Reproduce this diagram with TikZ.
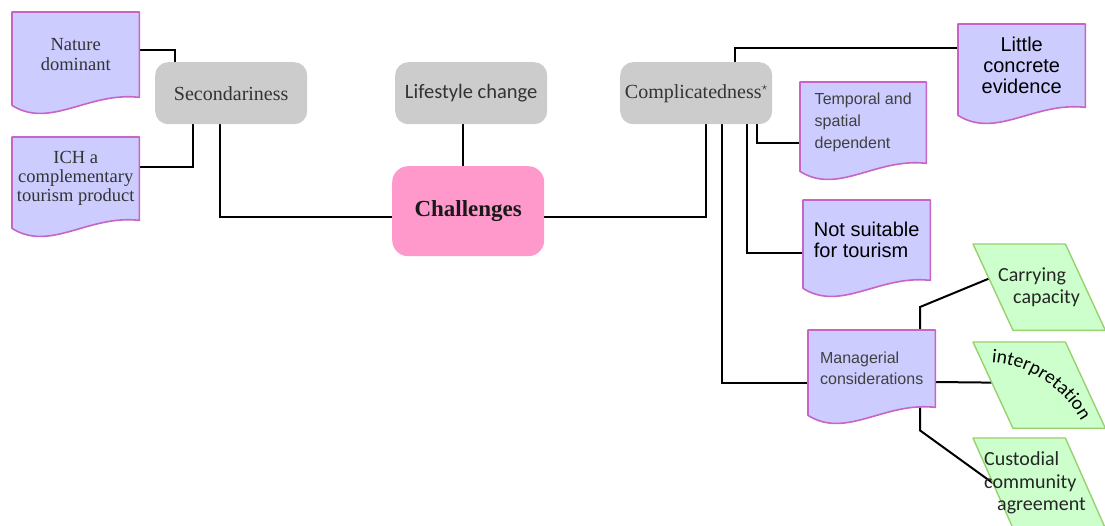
\documentclass[tikz,border=0pt]{standalone}
\usepackage{fontspec}
\setmainfont{Liberation Serif}
\newfontfamily\arialf{Liberation Sans}
\newfontfamily\calf{Carlito}
\usetikzlibrary{calc,backgrounds,decorations.text}

\definecolor{docfill}{HTML}{CCCCFF}
\definecolor{docline}{HTML}{C864C8}
\definecolor{greyfill}{HTML}{CCCCCC}
\definecolor{pinkfill}{HTML}{FF99CC}
\definecolor{greenfill}{HTML}{CCFFCC}
\definecolor{greenline}{HTML}{99D070}
\definecolor{textgrey}{HTML}{333333}
\definecolor{softgrey}{HTML}{404040}

\tikzset{
  topic/.style={rectangle, rounded corners=13pt, fill=greyfill, inner sep=0pt,
    minimum width=152pt, minimum height=62pt, anchor=north west,
    font=\fontsize{20}{22}\selectfont, text=textgrey},
  core/.style={rectangle, rounded corners=16pt, fill=pinkfill, inner sep=0pt,
    minimum width=152pt, minimum height=90pt, anchor=north west,
    font=\bfseries\fontsize{23}{25}\selectfont, text=black!90},
  docnode/.style={rectangle, inner sep=0pt, anchor=north west, minimum width=127pt},
  docshape/.style={fill=docfill, draw=docline, line width=1.6pt, line join=round},
  paranode/.style={rectangle, inner sep=0pt, anchor=north west,
    minimum width=132pt, font=\calf\fontsize{20}{22.5}\selectfont, text=black!85},
  parashape/.style={fill=greenfill, draw=greenline, line width=1.4pt, line join=round},
  link/.style={draw=black, line width=2pt}
}

% document-style outline: flat top, wavy bottom hanging below the node
\newcommand{\docoutline}[1]{%
  \path[docshape] (#1.north west) -- (#1.north east) -- (#1.south east)
    .. controls ($(#1.south east)!0.4!(#1.south west)+(0,-6)$)
    and ($(#1.south east)!0.7!(#1.south west)+(0,32)$)
    .. ($(#1.south west)+(0,8)$) -- cycle;}
% parallelogram outline leaning to the right
\newcommand{\paraoutline}[1]{%
  \path[parashape] (#1.north west) -- ($(#1.north east)+(-40,0)$)
    -- (#1.south east) -- ($(#1.south west)+(40,0)$) -- cycle;}

\begin{document}
\begin{tikzpicture}[x=1pt, y=-1pt]
\useasboundingbox (0,0) rectangle (1105,525);

% grey topics and the central node
\node[topic] (sec) at (155,62) {Secondariness};
\node[topic, font=\calf\fontsize{20.5}{22}\selectfont] (lif) at (395,62) {Lifestyle change};
\node[topic] (com) at (620,62) {Complicatedness\raisebox{8pt}{\fontsize{12}{12}\selectfont$\star$}};
\node[core] (cha) at (392,166) {Challenges};

% document boxes
\node[docnode, minimum height=85pt, align=center, text=textgrey,
  font=\fontsize{18.5}{20}\selectfont] (nat) at (12,12) {Nature\\dominant};
\node[docnode, minimum height=83pt, align=center, text=textgrey,
  font=\fontsize{18.5}{19}\selectfont] (ich) at (12,137) {ICH a\\complementary\\tourism product};
\node[docnode, minimum height=83pt, align=center, text=black,
  font=\arialf\fontsize{20}{21}\selectfont] (lit) at (958,24) {Little\\concrete\\evidence};
\node[docnode, minimum width=126pt, minimum height=81pt, align=left, text=softgrey,
  font=\arialf\fontsize{16}{22}\selectfont] (tem) at (800,82) {Temporal and\\spatial\\dependent};
\node[docnode, minimum height=80pt, align=left, text=black,
  font=\arialf\fontsize{20}{21}\selectfont] (nsu) at (803,200) {Not suitable\\for tourism};
\node[docnode, minimum height=77pt, align=left, text=softgrey,
  font=\arialf\fontsize{16}{21}\selectfont] (man) at (808,330) {Managerial\\considerations};

% parallelogram boxes
\node[paranode, minimum height=86pt, text width=82pt, align=left] (car) at (973,244)
  {Carrying\\\hspace*{15pt}capacity};
\node[paranode, minimum height=86pt] (int) at (973,342) {};
\node[paranode, minimum height=90pt, text width=110pt, align=left] (cus) at (973,438)
  {Custodial\\community\\\hspace*{13pt}agreement};
\path[decorate, decoration={text along path, text align=center,
    text={|\calf\fontsize{19.5}{20}\selectfont|interpretation}}]
  (986,362) .. controls (1032,364) and (1066,390) .. (1084,426);

\begin{scope}[on background layer]
  % connectors
  \draw[link] ($(nat.north east)+(0,38)$) -| ($(sec.north west)+(20,0)$);
  \draw[link] ($(ich.north east)+(0,30)$) -| ($(sec.south west)+(38,0)$);
  \draw[link] ($(sec.south west)+(65,0)$) |- ($(cha.west)+(0,6)$);
  \coordinate (lifx) at ($(lif.south west)+(68,0)$);
  \draw[link] (lifx) -- (lifx |- cha.north);
  \draw[link] ($(cha.east)+(0,6)$) -| ($(com.south west)+(86,0)$);
  \draw[link] ($(com.north west)+(115,0)$) |- ($(lit.north west)+(0,24)$);
  \draw[link] ($(com.south west)+(137,0)$) |- ($(tem.north west)+(0,61)$);
  \draw[link] ($(com.south west)+(127,0)$) |- ($(nsu.north west)+(0,53)$);
  \draw[link] ($(com.south west)+(102,0)$) |- ($(man.north west)+(0,53)$);
  \draw[link] ($(man.north west)+(112,0)$) -- ++(0,-23)
    -- ($(car.north west)!0.4!(car.south west)+(16,0)$);
  \draw[link] ($(man.north east)+(0,52)$)
    -- ($(int.north west)!0.47!(int.south west)+(19,0)$);
  \draw[link] ($(man.south west)+(112,0)$) -- ++(0,23)
    -- ($(cus.north west)!0.5!(cus.south west)+(20,0)$);
  % box outlines
  \docoutline{nat}
  \docoutline{ich}
  \docoutline{lit}
  \docoutline{tem}
  \docoutline{nsu}
  \docoutline{man}
  \paraoutline{car}
  \paraoutline{int}
  \paraoutline{cus}
\end{scope}
\end{tikzpicture}
\end{document}
